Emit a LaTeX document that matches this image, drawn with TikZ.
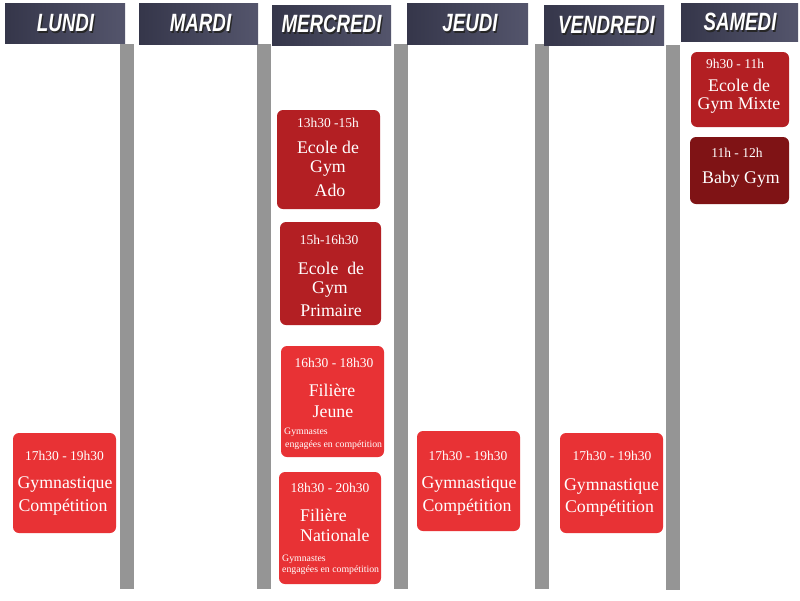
\documentclass[tikz,border=0pt]{standalone}
\usepackage{fontspec}
\setmainfont{Liberation Serif}
\newfontfamily\dayfont[FakeStretch=0.75]{Liberation Sans}
\definecolor{hdrA}{HTML}{35364A}
\definecolor{hdrB}{HTML}{54556C}
\definecolor{bargray}{HTML}{959595}
\definecolor{redA}{HTML}{E83235}
\definecolor{redB}{HTML}{B31F23}
\definecolor{redC}{HTML}{7F1315}
\tikzset{
  dayhdr/.style={draw=none, inner sep=0, left color=hdrA, right color=hdrB},
  daytxt/.style={text=white, font=\dayfont\bfseries\itshape\fontsize{25}{25}\selectfont, inner sep=0},
  dayshadow/.style={daytxt, text=black!85},
  colbar/.style={fill=bargray, draw=none},
  slot/.style={rounded corners=6pt, draw=none, inner sep=0},
  timetxt/.style={text=white, font=\fontsize{13.5}{14}\selectfont, inner sep=0},
  acttxt/.style={text=white, font=\fontsize{17.8}{18}\selectfont, inner sep=0},
  smalltxt/.style={text=white, font=\fontsize{9.8}{10}\selectfont, inner sep=0, anchor=west},
}
\begin{document}
\begin{tikzpicture}[x=1pt,y=-1pt]
\useasboundingbox[fill=white] (0,0) rectangle (800,600);
% column bars
\path[colbar] (120,44) rectangle (134,589);
\path[colbar] (257,44) rectangle (271,589);
\path[colbar] (394,44) rectangle (408,589);
\path[colbar] (535,44) rectangle (549,589);
\path[colbar] (666,45) rectangle (680,590);
% headers
\path[dayhdr] (5,3) rectangle (125,43);
\path[dayhdr] (139,3) rectangle (258,44);
\path[dayhdr] (272,5) rectangle (391,45);
\path[dayhdr] (407,3) rectangle (528,44);
\path[dayhdr] (544,5) rectangle (664,45);
\path[dayhdr] (681,3) rectangle (798,41);
\foreach \n/\x/\y/\t in {lun/65.5/23/LUNDI, mar/200.5/23/MARDI, mer/331.5/24/MERCREDI, jeu/470/23/JEUDI, ven/606.5/25/VENDREDI, sam/740/22/SAMEDI}{
  \node[dayshadow] (\n s) at (\x+1.3,\y+1.6) {\t};
  \node[daytxt] (\n h) at (\x,\y) {\t};
}
% Lundi
\node[slot, fill=redA, minimum width=103pt, minimum height=100pt] (lun1) at (64.5,483) {};
\node[timetxt] (lun1t) at (64.5,456) {17h30 - 19h30};
\node[acttxt] (lun1a) at (65,485) {Gymnastique};
\node[acttxt] (lun1b) at (63,507) {Compétition};
% Jeudi
\node[slot, fill=redA, minimum width=103pt, minimum height=100pt] (jeu1) at (468.5,481) {};
\node[timetxt] (jeu1t) at (468,456) {17h30 - 19h30};
\node[acttxt] (jeu1a) at (469,485) {Gymnastique};
\node[acttxt] (jeu1b) at (467,507) {Compétition};
% Vendredi
\node[slot, fill=redA, minimum width=103pt, minimum height=100pt] (ven1) at (611.5,483) {};
\node[timetxt] (ven1t) at (612,456) {17h30 - 19h30};
\node[acttxt] (ven1a) at (611.5,487) {Gymnastique};
\node[acttxt] (ven1b) at (609.5,508) {Compétition};
% Mercredi
\node[slot, fill=redB, minimum width=103pt, minimum height=99pt] (mer1) at (328.5,159.5) {};
\node[timetxt] (mer1t) at (328,123) {13h30 -15h};
\node[acttxt] (mer1a) at (328,147) {Ecole de};
\node[acttxt] (mer1b) at (328,169) {Gym};
\node[acttxt] (mer1c) at (330,190) {Ado};
\node[slot, fill=redB, minimum width=101pt, minimum height=103pt] (mer2) at (330.5,273.5) {};
\node[timetxt] (mer2t) at (329,240) {15h-16h30};
\node[acttxt] (mer2a) at (331,268) {Ecole\ \ de};
\node[acttxt] (mer2b) at (330,290) {Gym};
\node[acttxt] (mer2c) at (331,311) {Primaire};
\node[slot, fill=redA, minimum width=103pt, minimum height=111pt] (mer3) at (332.5,401.5) {};
\node[timetxt] (mer3t) at (334,363) {16h30 - 18h30};
\node[acttxt] (mer3a) at (332,390) {Filière};
\node[acttxt] (mer3b) at (333,412) {Jeune};
\node[smalltxt] (mer3c) at (284,432) {Gymnastes};
\node[smalltxt] (mer3d) at (285,445) {engagées en compétition};
\node[slot, fill=redA, minimum width=102pt, minimum height=112pt] (mer4) at (330,528) {};
\node[timetxt] (mer4t) at (330,488) {18h30 - 20h30};
\node[acttxt, anchor=west] (mer4a) at (300,515) {Filière};
\node[acttxt, anchor=west] (mer4b) at (300,535) {Nationale};
\node[smalltxt] (mer4c) at (282,559) {Gymnastes};
\node[smalltxt] (mer4d) at (282,570) {engagées en compétition};
% Samedi
\node[slot, fill=redB, minimum width=98pt, minimum height=75pt] (sam1) at (740,89.5) {};
\node[timetxt] (sam1t) at (735,64) {9h30 - 11h};
\node[acttxt] (sam1a) at (739,85) {Ecole de};
\node[acttxt] (sam1b) at (739,106) {Gym Mixte};
\node[slot, fill=redC, minimum width=99pt, minimum height=67pt] (sam2) at (739.5,170.5) {};
\node[timetxt] (sam2t) at (737,153) {11h - 12h};
\node[acttxt] (sam2a) at (741,179) {Baby Gym};
\end{tikzpicture}
\end{document}
